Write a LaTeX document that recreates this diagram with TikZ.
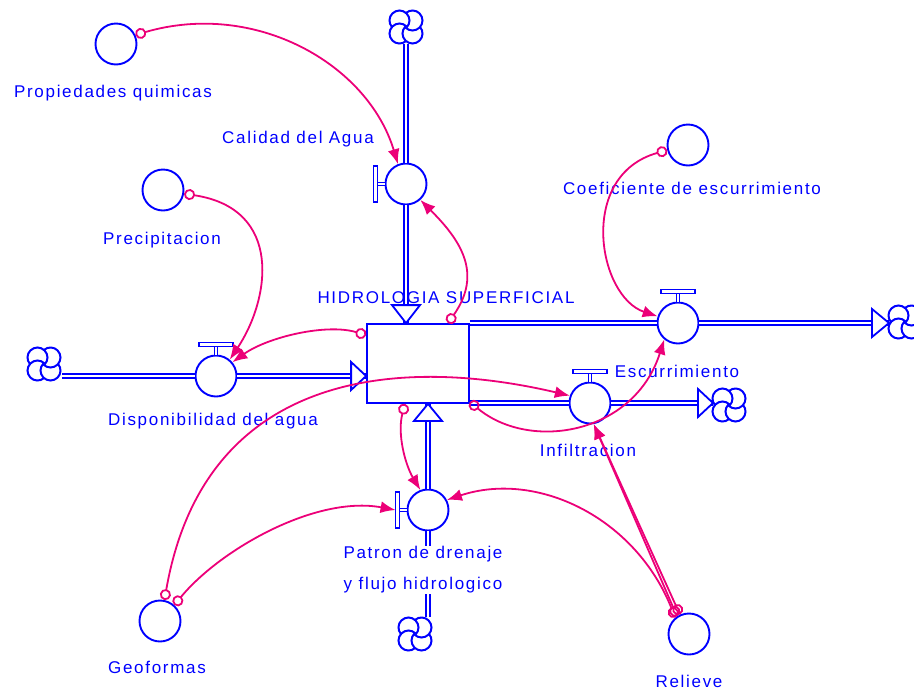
\documentclass[tikz,border=0pt]{standalone}
\usepackage{fontspec}
\setmainfont{Liberation Sans}
\newfontfamily\vfont[LetterSpace=10]{Liberation Sans}
\usetikzlibrary{arrows.meta}

\definecolor{linkpink}{RGB}{236,0,120}

\begin{document}
\begin{tikzpicture}[x=1pt,y=-1pt,
  pipe/.style={draw=blue,double=white,double distance=2pt,line width=2pt},
  stem/.style={draw=blue,double=white,double distance=1.6pt,line width=1.4pt},
  flowhead/.style={draw=blue,fill=white,line width=1.8pt,line join=miter},
  bar/.style={draw=blue,fill=white,line width=1.4pt},
  valve/.style={circle,draw=blue,fill=white,line width=1.9pt,minimum size=41pt,inner sep=0pt},
  aux/.style={circle,draw=blue,fill=white,line width=1.9pt,minimum size=41pt,inner sep=0pt},
  stockbox/.style={rectangle,draw=blue,fill=white,line width=1.8pt,minimum width=102pt,minimum height=79pt},
  lbl/.style={text=blue,font=\vfont\fontsize{17}{31}\selectfont,inner sep=1pt},
  link/.style={draw=linkpink,line width=1.8pt,{Circle[open,length=11pt,width=11pt]}-{Latex[length=15pt,width=12pt]}},
  cloud/.pic={
    \begin{scope}[yscale=-1]
      \foreach \a in {0,90,180,270}
        \fill[white,rotate=\a] (-6.5,6.5) circle (10);
      \foreach \a in {0,90,180,270}
        \draw[blue,line width=2pt,rotate=\a] (-6.5,6.5) ++(-45:10)
          arc[start angle=-45,end angle=220,radius=10];
    \end{scope}
  }
]

  \useasboundingbox (0,0) rectangle (914,689);

  % Stock
  \node[stockbox] (hs) at (418,363.5) {};

  % Valves
  \node[valve] (cal) at (406,184) {};
  \node[valve] (disp) at (216,376) {};
  \node[valve] (esc) at (678,323) {};
  \node[valve] (inf) at (590,403) {};
  \node[valve] (pat) at (428,510) {};

  % Auxiliaries
  \node[aux] (prop) at (116,44) {};
  \node[aux] (prec) at (163,190) {};
  \node[aux] (coef) at (688,145) {};
  \node[aux] (geo) at (160,621) {};
  \node[aux] (rel) at (689,634) {};

  % Clouds
  \pic at (406,27) {cloud};
  \pic at (44,364) {cloud};
  \pic at (905,322) {cloud};
  \pic at (729,405) {cloud};
  \pic at (415,634) {cloud};

  \coordinate (topsrc) at (406,44);
  \coordinate (leftsrc) at (62,376);
  \coordinate (escout) at (889,323);
  \coordinate (infout) at (713,403);
  \coordinate (botsrc) at (428,617);

  % Flows
  \draw[pipe] (topsrc) -- (cal);
  \draw[pipe] (cal) -- (cal |- hs.north);
  \draw[flowhead] (cal |- hs.north) -- ++(-14,-18) -- ++(28,0) -- cycle;

  \draw[pipe] (leftsrc) -- (disp);
  \draw[pipe] (disp) -- (disp -| hs.west);
  \draw[flowhead] (disp -| hs.west) -- ++(-15,-14) -- ++(0,28) -- cycle;

  \draw[pipe] (esc -| hs.east) -- (esc);
  \draw[pipe] (esc) -- (escout);
  \draw[flowhead] (escout) -- ++(-17,-14) -- ++(0,28) -- cycle;

  \draw[pipe] (inf -| hs.east) -- (inf);
  \draw[pipe] (inf) -- (infout);
  \draw[flowhead] (infout) -- ++(-15,-14) -- ++(0,28) -- cycle;

  \draw[pipe] (botsrc) -- (pat);
  \draw[pipe] (pat) -- (pat |- hs.south);
  \draw[flowhead] (pat |- hs.south) -- ++(-14,17) -- ++(28,0) -- cycle;

  % Valve handles
  \foreach \v in {disp,esc,inf} {
    \draw[stem] (\v.north) -- ++(0,-9);
    \draw[bar] ([xshift=-17pt,yshift=8pt]\v.north) rectangle ([xshift=17pt,yshift=12pt]\v.north);
  }
  \foreach \v in {cal,pat} {
    \draw[stem] (\v.west) -- ++(-8,0);
    \draw[bar] ([xshift=-11pt,yshift=18pt]\v.west) rectangle ([xshift=-7pt,yshift=-18pt]\v.west);
  }

  % Labels
  \node[lbl] (lhs) at (446,298) {HIDROLOGIA SUPERFICIAL};
  \node[lbl] (lprop) at (113,93) {Propiedades quimicas};
  \node[lbl] (lcal) at (298,139) {Calidad del Agua};
  \node[lbl] (lprec) at (162,240) {Precipitacion};
  \node[lbl] (lcoef) at (692,188) {Coeficiente de escurrimiento};
  \node[lbl] (ldisp) at (213,421) {Disponibilidad del agua};
  \node[lbl] (lesc) at (677,371) {Escurrimiento};
  \node[lbl] (linf) at (588,450) {Infiltracion};
  \node[lbl,fill=white,align=center] (lpat) at (423,570) {Patron de drenaje\\y flujo hidrologico};
  \node[lbl] (lgeo) at (157,667) {Geoformas};
  \node[lbl] (lrel) at (689,681) {Relieve};

  % Connectors
  \draw[link] (prop.25) .. controls +(120,-35) and +(-30,-100) .. (cal.112);
  \draw[link] ([xshift=30pt]hs.north) .. controls +(35,-50) and +(40,40) .. (cal.-48);
  \draw[link] (prec.-10) .. controls +(100,15) and +(40,-60) .. (disp.50);
  \draw[link] ([yshift=-12pt]hs.north west) .. controls +(-40,-12) and +(35,-25) .. (disp.40);
  \draw[link] (coef.194) .. controls +(-90,25) and +(-60,-20) .. (esc.162);
  \draw[link] ([yshift=2pt]hs.south east) .. controls +(60,50) and +(-30,95) .. (esc.230);
  \draw[link] (geo.78) .. controls +(40,-230) and +(-170,-40) .. (inf.160);
  \draw[link] (geo.48) .. controls +(45,-55) and +(-80,-15) .. ([xshift=-11pt]pat.west);
  \draw[link] ([xshift=-13pt]hs.south) .. controls +(-8,30) and +(-15,-25) .. (pat.111);
  \draw[link] (rel.130) .. controls +(-40,-100) and +(90,-30) .. (pat.28);
  \draw[link] (rel.124) -- (inf.-80);
  \draw[link] (rel.115) -- (inf.-80);

\end{tikzpicture}
\end{document}
